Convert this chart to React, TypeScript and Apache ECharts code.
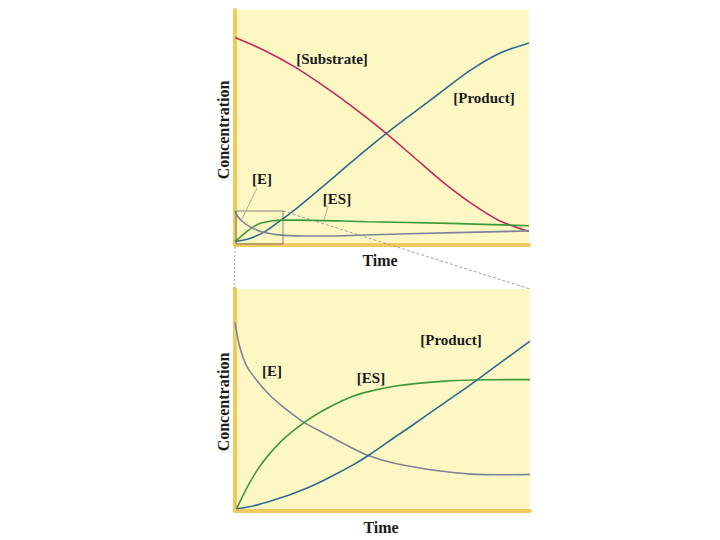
import React, { useEffect, useRef } from "react";
import * as echarts from "echarts";

// Top panel (full reaction), x: time 0-100, y: concentration 0-100
const topSubstrate: number[][] = [
  [0, 88.3], [10, 82.8], [20, 76.0], [30, 67.8], [40, 58.8], [50, 49.0],
  [60, 38.3], [70, 27.5], [80, 18.0], [90, 10.3], [100, 5.8],
];
const topProduct: number[][] = [
  [0, 1.5], [5, 2.8], [10, 5.6], [15, 10.0], [20, 14.6], [30, 25.0], [40, 35.7],
  [50, 46.0], [60, 55.6], [70, 65.0], [80, 74.3], [90, 81.6], [100, 86.0],
];
const topES: number[][] = [
  [0, 1.5], [2, 3.6], [4, 5.7], [6, 7.5], [8, 8.9], [10, 9.7], [13, 10.3],
  [16, 10.6], [22, 10.6], [45, 9.9], [73, 9.2], [100, 8.2],
];
const topE: number[][] = [
  [0, 14.5], [1, 12.0], [2.5, 10.0], [5, 7.8], [7.5, 6.3], [10, 5.3], [14, 4.4],
  [20, 3.9], [30, 3.8], [56, 4.7], [100, 6.0],
];

// Bottom panel (zoomed early phase)
const botE: number[][] = [
  [0, 85.0], [1.7, 73.5], [4, 65.2], [7.5, 58.6], [12, 51.9], [16.6, 46.6],
  [23.4, 39.9], [30.2, 35.0], [36.9, 30.3], [45.2, 25.0], [54.8, 21.3],
  [69.5, 18.0], [80, 16.6], [90, 16.3], [100, 16.5],
];
const botES: number[][] = [
  [0.5, 1.0], [4.2, 10.9], [7.6, 18.5], [10.9, 24.5], [16.6, 32.6], [23.4, 39.8],
  [29.1, 44.7], [36.9, 50.0], [43.5, 53.2], [55, 56.4], [70, 58.4], [85, 59.1],
  [100, 59.2],
];
const botProduct: number[][] = [
  [0.5, 1.0], [6.4, 2.4], [13.2, 5.0], [20, 8.0], [26.8, 11.7], [33.6, 16.2],
  [40, 20.8], [45.2, 25.0], [55, 34.0], [60, 38.5], [70, 47.8], [80, 57.0],
  [90, 66.8], [100, 76.5],
];

const C_SUB = "#C4285A";
const C_PROD = "#2B6B92";
const C_ES = "#3A9A3A";
const C_E = "#7F8399";
const BG = "#FDF8C3";
const AXIS = "#F2C95E";
const FONT = "'Liberation Serif', 'DejaVu Serif', serif";

export default function App() {
  const ref = useRef<HTMLDivElement>(null);
  useEffect(() => {
    if (!ref.current) return;
    const chart = echarts.init(ref.current, undefined, { renderer: "svg" });
    const axisX = (gi: number) => ({
      type: "value" as const,
      gridIndex: gi,
      min: 0,
      max: 100,
      axisLine: { show: true, lineStyle: { color: AXIS, width: 4 } },
      axisTick: { show: false },
      axisLabel: { show: false },
      splitLine: { show: false },
    });
    const line = (data: number[][], color: string, xi: number) => ({
      type: "line" as const,
      xAxisIndex: xi,
      yAxisIndex: xi,
      data,
      smooth: 0.3,
      symbol: "none",
      lineStyle: { color, width: 1.6 },
      z: 3,
    });
    const txt = (x: number, y: number, text: string, rotation = 0, size = 15) => ({
      type: "text" as const,
      x,
      y,
      rotation,
      z: 10,
      style: {
        text,
        fill: "#1a1a1a",
        font: `bold ${size}px ${FONT}`,
        align: "center",
        verticalAlign: "middle",
      },
    });
    const seg = (x1: number, y1: number, x2: number, y2: number, dash?: number[], color = "#888") => ({
      type: "line" as const,
      z: 8,
      shape: { x1, y1, x2, y2 },
      style: { stroke: color, lineWidth: 0.8, lineDash: dash },
    });
    chart.setOption({
      animation: false,
      grid: [
        { left: 235, top: 10, width: 294, height: 235, show: true, backgroundColor: BG, borderWidth: 0 },
        { left: 235, top: 289, width: 295, height: 222, show: true, backgroundColor: BG, borderWidth: 0 },
      ],
      xAxis: [axisX(0), axisX(1)],
      yAxis: [axisX(0), axisX(1)],
      series: [
        line(topSubstrate, C_SUB, 0),
        line(topProduct, C_PROD, 0),
        line(topES, C_ES, 0),
        line(topE, C_E, 0),
        line(botE, C_E, 1),
        line(botES, C_ES, 1),
        line(botProduct, C_PROD, 1),
      ],
      graphic: [
        {
          type: "rect",
          z: 8,
          shape: { x: 236, y: 211, width: 47, height: 33 },
          style: { fill: "none", stroke: "#666", lineWidth: 0.8 },
        },
        seg(283, 211, 530, 289, [3, 2]),
        seg(235, 247, 234, 289, [2, 2]),
        seg(257, 188, 241, 221, undefined, "#999"),
        seg(328, 207, 324, 220, undefined, "#999"),
        txt(332, 59, "[Substrate]"),
        txt(484, 98, "[Product]"),
        txt(262, 179, "[E]"),
        txt(337, 199, "[ES]"),
        txt(223, 130, "Concentration", Math.PI / 2, 16),
        txt(380, 260, "Time", 0, 16),
        txt(451, 340, "[Product]"),
        txt(272, 371, "[E]"),
        txt(371, 378, "[ES]"),
        txt(223, 402, "Concentration", Math.PI / 2, 16),
        txt(381, 527, "Time", 0, 16),
      ],
    });
    return () => chart.dispose();
  }, []);
  return (
    <div
      ref={ref}
      style={{ position: "absolute", left: 0, top: 0, width: 720, height: 540, background: "#fff" }}
    />
  );
}
